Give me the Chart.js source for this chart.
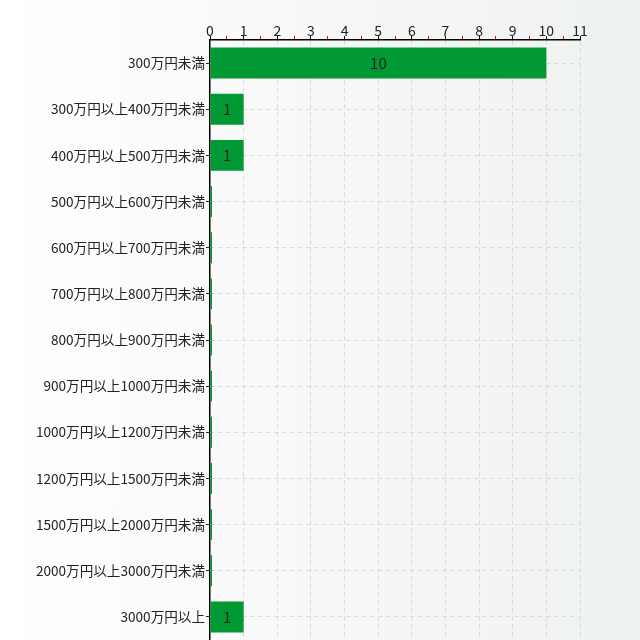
<!DOCTYPE html>
<html>
<head>
<meta charset="utf-8">
<script src="https://cdn.jsdelivr.net/npm/chart.js@4"></script>
<style>
html,body{margin:0;padding:0;}
body{width:640px;height:640px;background:linear-gradient(to right,#ffffff 0%,#f8f9f8 40%,#eef2ef 100%);}
#wrap{width:640px;height:640px;position:relative;}
</style>
</head>
<body>
<div id="wrap"><canvas id="c" width="640" height="640"></canvas></div>
<script>
const categories = ["300万円未満","300万円以上400万円未満","400万円以上500万円未満","500万円以上600万円未満","600万円以上700万円未満","700万円以上800万円未満","800万円以上900万円未満","900万円以上1000万円未満","1000万円以上1200万円未満","1200万円以上1500万円未満","1500万円以上2000万円未満","2000万円以上3000万円未満","3000万円以上"];
const counts = [10,1,1,0,0,0,0,0,0,0,0,0,1];
const xMax = 11;
const xStep = 0.5;

const FONT = "'Noto Sans CJK JP','Noto Sans',sans-serif";
Chart.defaults.font.family = FONT;

const valueLabels = {
  id: 'valueLabels',
  afterDatasetsDraw(chart) {
    const ctx = chart.ctx;
    const meta = chart.getDatasetMeta(0);
    ctx.save();
    ctx.font = "15px " + FONT;
    ctx.fillStyle = '#222';
    ctx.textAlign = 'center';
    ctx.textBaseline = 'middle';
    meta.data.forEach((bar, i) => {
      const v = counts[i];
      if (!v) return;
      const x = (bar.x + bar.base) / 2;
      ctx.fillText(String(v), x, bar.y);
    });
    ctx.restore();
  }
};

new Chart(document.getElementById('c'), {
  type: 'bar',
  data: {
    labels: categories,
    datasets: [{
      data: counts,
      backgroundColor: '#009933',
      borderWidth: 0,
      minBarLength: 2,
      categoryPercentage: 1,
      barPercentage: 0.67
    }]
  },
  options: {
    indexAxis: 'y',
    responsive: false,
    animation: false,
    devicePixelRatio: 1,
    layout: { padding: { left: 0, right: 60, top: 0, bottom: 0 } },
    plugins: { legend: { display: false }, tooltip: { enabled: false } },
    scales: {
      x: {
        position: 'top',
        min: 0,
        max: xMax,
        afterFit(s) { s.height = 40; s.paddingLeft = 0; s.paddingRight = 0; },
        ticks: {
          stepSize: xStep,
          autoSkip: false,
          maxRotation: 0,
          padding: -3,
          color: '#222',
          font: { size: 14 },
          callback(v) { return Number.isInteger(v) ? String(v) : ''; }
        },
        grid: {
          color: (c) => (c.tick && Number.isInteger(c.tick.value) && c.tick.value !== 0) ? '#d8d8d8' : 'rgba(0,0,0,0)',
          tickColor: (c) => (c.tick && Number.isInteger(c.tick.value)) ? '#111' : '#ff0000',
          tickLength: 4,
          lineWidth: 1
        },
        border: { display: true, color: '#000', width: 1.5, dash: [4,4] }
      },
      y: {
        afterFit(s) { s.width = 210; s.paddingTop = 0; s.paddingBottom = 0; },
        ticks: {
          color: '#222',
          font: { size: 13.6 },
          padding: 1,
          autoSkip: false
        },
        grid: {
          offset: false,
          color: '#d8d8d8',
          tickColor: '#222',
          tickLength: 4
        },
        border: { display: true, color: '#000', width: 1.5, dash: [4,4] }
      }
    }
  },
  plugins: [valueLabels]
});
</script>
</body>
</html>
